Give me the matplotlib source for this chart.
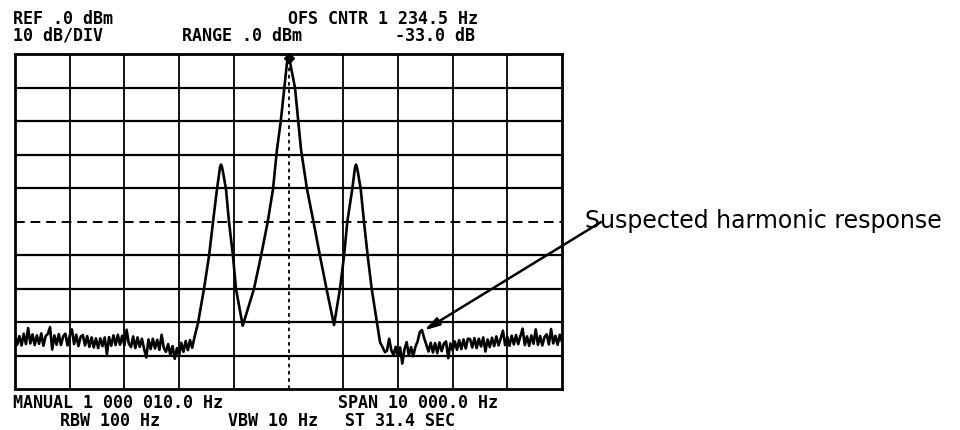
import matplotlib.pyplot as plt
import numpy as np

# spectrum analyser screen, 10 dB/div, span 10 kHz around 1 000 010.0 Hz
# x = offset from centre in Hz, y = level in dBm

ref_level = 0.0
db_per_div = 10
span_hz = 10000

# noise floor left of the signal group, 40 Hz steps from -5000 Hz
noise_left_start = -5000
noise_left_step = 40
noise_left_db = [
    -83.6, -86.8, -84.2, -87.0, -83.5, -86.6, -81.8, -86.4, -83.7, -86.9,
    -84.0, -86.5, -83.4, -87.1, -84.2, -83.6, -81.5, -88.2, -84.0, -86.8,
    -83.6, -86.9, -84.3, -83.5, -87.0, -84.1, -82.2, -86.6, -83.8, -87.2,
    -84.4, -83.9, -87.0, -84.2, -87.4, -84.6, -87.6, -84.9, -87.8, -84.9,
    -87.2, -84.6, -89.6, -84.5, -87.1, -84.0, -86.9, -83.8, -86.8, -84.1,
    -87.0, -82.3, -86.4, -87.5, -84.3, -87.8, -84.6, -87.4, -85.0, -88.0,
    -90.6, -85.2, -88.1, -85.0, -87.9, -85.3, -88.3, -83.8, -87.7, -88.9,
    -86.6, -89.8, -87.2, -91.0, -87.8, -90.1, -86.2, -88.9, -85.7, -88.4,
    -85.4, -87.7, -84.6,
]

# carrier and the two sidebands (+/- 1234.5 Hz, -33 dB)
peak_hz = [
    -1654, -1545, -1453, -1380, -1307, -1265, -1250, -1234.5, -1218, -1200,
    -1143, -1088, -1015, -960, -837, -631, -503, -380, -283, -210,
    -143, -77, -30, 0, 40, 119, 179, 228, 338, 457,
    576, 695, 832, 941, 1015, 1075, 1166, 1205, 1220, 1234.5,
    1250, 1270, 1320, 1380, 1448, 1521, 1618, 1673, 1764,
]
peak_db = [
    -80.3, -70.1, -60.3, -50.1, -40.3, -35.2, -33.6, -33.0, -33.6, -35.0,
    -40.3, -50.1, -60.3, -70.1, -81.1, -70.1, -60.3, -50.1, -40.3, -28.4,
    -20.3, -10.1, -3.0, 0.0, -3.5, -10.1, -20.3, -28.4, -40.3, -50.1,
    -60.3, -70.1, -80.9, -70.1, -60.3, -50.1, -40.3, -35.2, -33.6, -33.0,
    -33.7, -35.4, -40.3, -50.1, -60.3, -70.1, -80.3, -86.0, -89.0,
]

# noise floor right of the signal group, 40 Hz steps from 1800 Hz
noise_right_start = 1800
noise_right_step = 40
noise_right_db = [
    -88.6, -85.0, -88.4, -89.9, -87.4, -90.3, -87.6, -92.4, -88.2, -86.0,
    -90.0, -87.5, -90.2, -87.4, -85.8, -83.0, -82.4, -84.8, -86.8, -88.8,
    -86.2, -89.1, -86.3, -89.3, -86.1, -88.7, -86.5, -85.8, -90.8, -86.4,
    -88.5, -85.8, -88.3, -85.4, -88.1, -85.2, -87.9, -85.0, -85.1, -87.6,
    -84.8, -87.8, -85.0, -87.3, -84.6, -88.8, -85.2, -87.5, -84.7, -87.2,
    -84.3, -87.0, -84.9, -82.6, -86.9, -84.4, -87.1, -84.1, -86.7, -83.9,
    -86.6, -84.2, -82.0, -86.9, -84.3, -87.1, -84.0, -86.5, -82.2, -86.8,
    -84.2, -87.0, -84.5, -83.7, -86.7, -82.1, -86.4, -84.1, -86.8, -83.8,
    -85.9,
]

harmonic_hz = 2480
harmonic_db = -82.5

header_texts = [
    ("REF .0 dBm", 13, 24),
    ("OFS CNTR 1 234.5 Hz", 288, 24),
    ("10 dB/DIV", 13, 41),
    ("RANGE .0 dBm", 182, 41),
    ("-33.0 dB", 395, 41),
]
footer_texts = [
    ("MANUAL 1 000 010.0 Hz", 13, 408),
    ("SPAN 10 000.0 Hz", 338, 408),
    ("RBW 100 Hz", 60, 426),
    ("VBW 10 Hz", 228, 426),
    ("ST 31.4 SEC", 345, 426),
]

W, H = 960, 431


def fx(px):
    return px / W


def fy(py):
    return 1 - py / H


def buildTrace():
    x_left = noise_left_start + noise_left_step * np.arange(len(noise_left_db))
    x_right = noise_right_start + noise_right_step * np.arange(len(noise_right_db))
    x = np.concatenate([x_left, np.array(peak_hz, dtype=float), x_right])
    y = np.concatenate([noise_left_db, peak_db, noise_right_db])
    return x, y


def drawScreen():
    fig = plt.figure(figsize=(W / 100, H / 100), dpi=100)
    ax = fig.add_axes([fx(15), fy(390), fx(562) - fx(15), fy(55) - fy(390)])

    half = span_hz / 2
    ax.set_xlim(-half, half)
    ax.set_ylim(ref_level - 10 * db_per_div, ref_level)

    # graticule
    for v in np.arange(-half + 1000, half, 1000):
        if v == 0:
            ax.axvline(v, color="black", lw=1.3, ls=(0, (2, 2)), zorder=1)
        else:
            ax.axvline(v, color="black", lw=1.3, zorder=1)
    for h in np.arange(ref_level - 90, ref_level, db_per_div):
        if h == -50:
            ax.axhline(h, color="black", lw=1.4, ls=(0, (5, 3)), zorder=1)
        else:
            ax.axhline(h, color="black", lw=1.6, zorder=1)
    for s in ax.spines.values():
        s.set_linewidth(2.0)
    ax.set_xticks([])
    ax.set_yticks([])

    x, y = buildTrace()
    ax.plot(x, y, color="black", lw=1.9, zorder=3)
    ax.plot([0], [ref_level - 1.2], marker="D", ms=5, color="black",
            clip_on=False, zorder=4)

    # callout
    fig.text(fx(585), fy(228), "Suspected harmonic response",
             fontsize=17, family="DejaVu Sans", va="baseline", ha="left")
    ax.annotate("", xy=(harmonic_hz, harmonic_db),
                xytext=(601, H - 223), textcoords="figure pixels",
                arrowprops=dict(arrowstyle="-|>,head_length=0.9,head_width=0.25",
                                color="black", lw=1.8, shrinkA=0, shrinkB=0))

    for txt, px, py in header_texts:
        fig.text(fx(px), fy(py), txt, fontsize=12, family="DejaVu Sans Mono",
                 fontweight="bold", va="baseline", ha="left")
    for txt, px, py in footer_texts:
        fig.text(fx(px), fy(py), txt, fontsize=12, family="DejaVu Sans Mono",
                 fontweight="bold", va="baseline", ha="left")

    fig.savefig("out.png", dpi=100)
    plt.close(fig)


if __name__ == "__main__":
    drawScreen()
